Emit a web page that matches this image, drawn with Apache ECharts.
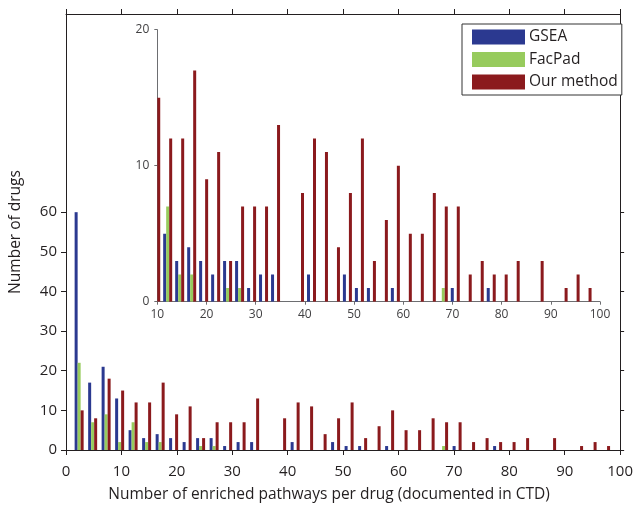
<!DOCTYPE html>
<html>
<head>
<meta charset="utf-8">
<script src="https://cdn.jsdelivr.net/npm/echarts@6/dist/echarts.min.js"></script>
<style>
html,body{margin:0;padding:0;background:#fff;}
#chart{width:636px;height:508px;}
</style>
</head>
<body>
<div id="chart"></div>
<script>
// Histogram bin centers (number of enriched pathways per drug)
const binCenters = [2.37, 4.81, 7.24, 9.68, 12.11, 14.55, 16.99, 19.42, 21.86, 24.29,
  26.73, 29.17, 31.60, 34.04, 36.47, 38.91, 41.35, 43.78, 46.22, 48.65,
  51.09, 53.53, 55.96, 58.40, 60.83, 63.27, 65.71, 68.14, 70.58, 73.01,
  75.45, 77.89, 80.32, 82.76, 85.19, 87.63, 90.07, 92.50, 94.94, 97.37];
// Number of drugs per bin
const gsea = [60, 17, 21, 13, 5, 3, 4, 3, 2, 3,
  3, 1, 2, 2, 0, 0, 2, 0, 0, 2,
  1, 1, 0, 1, 0, 0, 0, 0, 1, 0,
  0, 1, 0, 0, 0, 0, 0, 0, 0, 0];
const facpad = [22, 7, 9, 2, 7, 2, 2, 0, 0, 1,
  1, 0, 0, 0, 0, 0, 0, 0, 0, 0,
  0, 0, 0, 0, 0, 0, 0, 1, 0, 0,
  0, 0, 0, 0, 0, 0, 0, 0, 0, 0];
const ourMethod = [10, 8, 18, 15, 12, 12, 17, 9, 11, 3,
  7, 7, 7, 13, 0, 8, 12, 11, 4, 8,
  12, 3, 6, 10, 5, 5, 8, 7, 7, 2,
  3, 2, 2, 3, 0, 3, 0, 1, 2, 1];
const seriesNames = ['GSEA', 'FacPad', 'Our method'];
const xTicks = [0, 10, 20, 30, 40, 50, 60, 70, 80, 90, 100];
const yTicks = [0, 10, 20, 30, 40, 50, 60];
const insetXTicks = [10, 20, 30, 40, 50, 60, 70, 80, 90, 100];
const insetYTicks = [0, 10, 20];

const colors = ['#2b3990', '#97cb5d', '#8b1a1d'];
const FONT = 'Open Sans';
const pairs = arr => arr.map((v, i) => [binCenters[i], v]);
const seriesData = [gsea, facpad, ourMethod];
const BAR_W = 3;
const barOffsets = [-3, 0, 3]; // pixel offset of each series inside a bin group

const axisCol = '#231f20';
const insetCol = '#6d6e71';

function mainBars() {
  return seriesData.map((d, s) => ({
    type: 'bar',
    name: seriesNames[s],
    xAxisIndex: 0,
    yAxisIndex: 0,
    data: pairs(d),
    barWidth: BAR_W,
    barGap: '0%',
    itemStyle: {color: colors[s]},
    silent: true,
    animation: false
  }));
}

// Inset: bars drawn through the inset's own axes and clipped exactly to its area
function insetBars() {
  return seriesData.map((d, s) => ({
    type: 'custom',
    name: seriesNames[s],
    xAxisIndex: 2,
    yAxisIndex: 2,
    data: pairs(d),
    encode: {x: 0, y: 1},
    itemStyle: {color: colors[s]},
    silent: true,
    animation: false,
    clip: true,
    renderItem: function (params, api) {
      const x = api.value(0), y = api.value(1);
      if (!y) return null;
      const base = api.coord([x, 0]);
      const top = api.coord([x, y]);
      const rect = {
        x: base[0] + barOffsets[s] - BAR_W / 2,
        y: top[1],
        width: BAR_W,
        height: base[1] - top[1]
      };
      const cs = params.coordSys;
      const clipped = echarts.graphic.clipRectByRect(rect, {
        x: cs.x, y: cs.y, width: cs.width, height: cs.height
      });
      if (!clipped) return null;
      return {type: 'rect', shape: clipped, style: {fill: colors[s]}};
    }
  }));
}

const chart = echarts.init(document.getElementById('chart'), null, {renderer: 'canvas'});
chart.setOption({
  animation: false,
  textStyle: {fontFamily: FONT},
  grid: [
    {left: 63, right: 11, top: 14, bottom: 50.3},
    {left: 157.3, right: 36, top: 29.7, bottom: 206.3}
  ],
  legend: {
    data: seriesNames,
    orient: 'vertical',
    left: 462, top: 24,
    padding: [5, 4, 5, 10],
    itemWidth: 53, itemHeight: 15, itemGap: 6.5,
    icon: 'rect',
    borderColor: '#333', borderWidth: 1,
    backgroundColor: '#fff',
    textStyle: {fontFamily: FONT, fontSize: 15.5, color: '#231f20', padding: [0, 0, 0, -1]}
  },
  xAxis: [
    {
      type: 'value', gridIndex: 0, min: 0, max: 100, interval: 10, position: 'bottom',
      name: 'Number of enriched pathways per drug (documented in CTD)',
      nameLocation: 'middle', nameGap: 37,
      nameTextStyle: {fontFamily: FONT, fontSize: 15.5, color: '#231f20', padding: [0, 28, 0, 0]},
      axisLine: {show: true, lineStyle: {color: axisCol, width: 1}},
      axisTick: {show: true, inside: false, length: 5, lineStyle: {color: axisCol}, customValues: xTicks},
      axisLabel: {fontFamily: FONT, fontSize: 15, color: '#231f20', margin: 14, customValues: xTicks},
      splitLine: {show: false}
    },
    {
      type: 'value', gridIndex: 0, min: 0, max: 100, interval: 10, position: 'top',
      axisLine: {show: true, onZero: false, lineStyle: {color: axisCol, width: 1}},
      axisTick: {show: true, inside: false, length: 5, lineStyle: {color: axisCol}},
      axisLabel: {show: false},
      splitLine: {show: false}
    },
    {
      type: 'value', gridIndex: 1, min: 10, max: 100, interval: 10, position: 'bottom',
      axisLine: {show: true, lineStyle: {color: insetCol, width: 1}},
      axisTick: {show: true, inside: false, length: 3, lineStyle: {color: insetCol}, customValues: insetXTicks},
      axisLabel: {fontFamily: FONT, fontSize: 12, color: '#414042', margin: 7, customValues: insetXTicks},
      splitLine: {show: false}
    }
  ],
  yAxis: [
    {
      type: 'value', gridIndex: 0, min: 0, max: 110, interval: 10, position: 'left',
      name: 'Number of drugs', nameLocation: 'middle', nameGap: 42,
      nameTextStyle: {fontFamily: FONT, fontSize: 15.5, color: '#231f20'},
      axisLine: {show: true, lineStyle: {color: axisCol, width: 1}},
      axisTick: {show: true, inside: false, length: 5, lineStyle: {color: axisCol}, customValues: yTicks},
      axisLabel: {fontFamily: FONT, fontSize: 15, color: '#231f20', margin: 9, customValues: yTicks},
      splitLine: {show: false}
    },
    {
      type: 'value', gridIndex: 0, min: 0, max: 110, interval: 10, position: 'right',
      axisLine: {show: true, onZero: false, lineStyle: {color: axisCol, width: 1}},
      axisTick: {show: true, inside: false, length: 4, lineStyle: {color: axisCol}, customValues: yTicks},
      axisLabel: {show: false},
      splitLine: {show: false}
    },
    {
      type: 'value', gridIndex: 1, min: 0, max: 20, interval: 10, position: 'left',
      axisLine: {show: true, lineStyle: {color: insetCol, width: 1}},
      axisTick: {show: true, inside: false, length: 3, lineStyle: {color: insetCol}, customValues: insetYTicks},
      axisLabel: {fontFamily: FONT, fontSize: 12, color: '#414042', margin: 8, customValues: insetYTicks},
      splitLine: {show: false}
    }
  ],
  series: mainBars().concat(insetBars())
});
</script>
</body>
</html>
